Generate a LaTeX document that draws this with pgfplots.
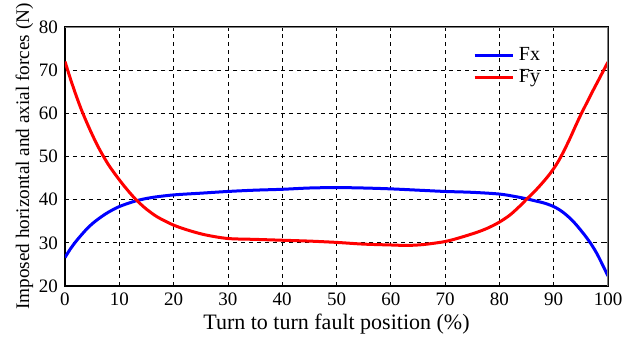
\documentclass[border=0pt]{standalone}
\usepackage{fontspec}
\setmainfont{Liberation Serif}
\usepackage{pgfplots}
\pgfplotsset{compat=1.18}
\begin{document}
\begin{tikzpicture}
\begin{axis}[
  name=ax,
  scale only axis=true,
  width=271.5pt, height=129.5pt,
  xmin=0, xmax=100, ymin=20, ymax=80,
  xtick={0,10,...,100}, ytick={20,30,...,80},
  grid=major,
  major grid style={black, dashed, line width=0.4pt, dash pattern=on 2pt off 2pt},
  axis line style={black, line width=0.6pt},
  tick style={black, line width=0.4pt},
  tick align=inside,
  major tick length=2pt,
  /pgf/number format/assume math mode=true,
  ticklabel style={font=\fontsize{9.5}{10}\selectfont},
  xlabel={Turn to turn fault position (\%)},
  ylabel={Imposed horizontal and axial forces (N)},
  xlabel style={font=\fontsize{11}{12}\selectfont, yshift=3pt},
  ylabel style={font=\fontsize{9.6}{11}\selectfont, yshift=-4pt},
  legend style={draw=none, fill=none, at={(0.74,0.955)}, anchor=north west,
    font=\fontsize{10}{11}\selectfont, row sep=-1pt},
  legend cell align=left,
  legend image code/.code={\draw[#1, line width=1.5pt] (0cm,0cm) -- (0.68cm,0cm);},
]
\addplot[blue, line width=1.5pt, smooth] coordinates {
(0,26.6) (1,28.6) (2,30.3) (3,31.8) (4,33.2) (5,34.4) (6,35.4) (7,36.3) (8,37.1) (10,38.4) (13,39.7) (16,40.5) (20,41.1) (25,41.5) (30,41.9) (35,42.2) (40,42.4) (45,42.7) (50,42.8) (55,42.7) (60,42.5) (65,42.2) (70,41.9) (75,41.7) (80,41.3) (83,40.7) (85,40.2) (86,39.9) (87,39.6) (88,39.3) (89,38.9) (90,38.4) (91,37.7) (92,36.8) (93,35.7) (94,34.4) (95,32.9) (96,31.3) (97,29.5) (98,27.4) (99,24.9) (100,22.3)
};
\addlegendentry{Fx}
\addplot[red, line width=1.5pt, smooth] coordinates {
(0,72.0) (1,68.0) (2,64.3) (3,60.9) (4,57.9) (5,55.1) (6,52.5) (7,50.2) (8,48.1) (9,46.3) (10,44.6) (11,43.0) (12,41.5) (13,40.1) (14,38.9) (15,37.8) (17,36.0) (20,34.1) (23,32.8) (26,31.8) (30,31.0) (35,30.8) (40,30.6) (45,30.4) (50,30.1) (55,29.7) (60,29.5) (63,29.4) (66,29.6) (70,30.3) (73,31.3) (76,32.5) (78,33.5) (80,34.8) (82,36.5) (84,38.8) (85,40.1) (86,41.3) (87,42.6) (88,44.0) (89,45.5) (90,47.2) (91,49.2) (92,51.6) (93,54.2) (94,57.0) (95,59.7) (96,62.2) (97,64.7) (98,67.1) (99,69.5) (100,71.9)
};
\addlegendentry{Fy}
\draw[gray, line width=0.8pt] (rel axis cs:0,1) -- (rel axis cs:1,1) -- (rel axis cs:1,0);
\end{axis}
\pgfresetboundingbox
\path ([xshift=-32.5pt,yshift=-27pt]ax.south west) rectangle ([xshift=12pt,yshift=13.5pt]ax.north east);
\end{tikzpicture}
\end{document}
